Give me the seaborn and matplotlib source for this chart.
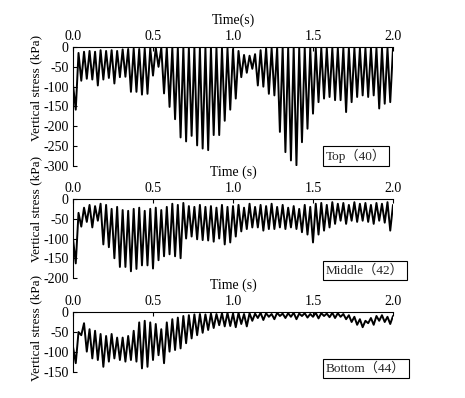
import numpy as np
import pandas as pd
import matplotlib
matplotlib.use("Agg")
import matplotlib.pyplot as plt
import seaborn as sns

# sampling interval of the alternating peak/trough readings (s)
dt = 2.0 / 116

# ---- Top (40) ----
top_peaks = [-95, -15, -12, -10, -12, -8, -10, -8, -10, -6,
             -5, -4, -5, -4, -3, -2, -2, -2, -2, -2,
             -2, -2, -2, -2, -2, -2, -2, -3, -3, -5,
             -10, -20, -22, -18, -8, -3, -3, -2, -2, -2,
             -2, -2, -2, -3, -3, -3, -3, -3, -3, -3,
             -3, -3, -3, -3, -3, -3, -3, -3, -3]
top_troughs = [-158, -85, -80, -82, -97, -82, -78, -92, -76, -75,
               -113, -113, -120, -118, -72, -50, -117, -151, -182, -228,
               -238, -224, -248, -256, -260, -222, -222, -186, -158, -130,
               -76, -65, -55, -97, -100, -118, -122, -214, -265, -286,
               -298, -240, -206, -168, -139, -130, -126, -134, -134, -164,
               -139, -126, -122, -126, -122, -155, -143, -139]

# ---- Middle (42) ----
mid_peaks = [-100, -35, -22, -15, -18, -12, -15, -25, -20, -28,
             -30, -25, -22, -30, -25, -22, -28, -20, -12, -15,
             -10, -18, -20, -15, -20, -18, -22, -15, -20, -18,
             -15, -22, -12, -20, -15, -18, -12, -20, -15, -22,
             -18, -25, -15, -20, -12, -10, -15, -8, -12, -10,
             -15, -8, -12, -10, -15, -10, -12, -8, -15]
mid_troughs = [-163, -70, -58, -72, -55, -115, -122, -150, -172, -172,
               -183, -177, -168, -168, -176, -155, -145, -140, -145, -150,
               -100, -95, -102, -104, -105, -108, -100, -115, -110, -95,
               -82, -76, -72, -72, -80, -76, -76, -72, -76, -72,
               -76, -84, -90, -110, -90, -80, -72, -63, -55, -63,
               -55, -58, -55, -58, -63, -55, -60, -80]

# ---- Bottom (44) ----
bot_peaks = [-87, -50, -28, -43, -47, -55, -60, -55, -64, -64,
             -60, -47, -26, -22, -26, -30, -43, -26, -18, -14,
             -10, -8, -6, -5, -6, -4, -5, -3, -2, -4,
             -2, -5, -3, -4, -2, -3, -5, -2, -4, -3,
             -2, -4, -3, -5, -2, -3, -4, -2, -3, -5,
             -8, -12, -18, -22, -15, -10, -8, -12, -10]
bot_troughs = [-128, -58, -99, -116, -120, -137, -124, -116, -120, -124,
               -120, -124, -141, -137, -120, -108, -128, -99, -95, -91,
               -78, -66, -58, -52, -45, -40, -33, -36, -35, -38,
               -30, -36, -22, -15, -20, -12, -18, -10, -15, -12,
               -18, -10, -14, -12, -16, -10, -13, -15, -12, -18,
               -25, -32, -38, -28, -32, -22, -25, -30]

x_ticks = [0.0, 0.5, 1.0, 1.5, 2.0]
panels = [
    dict(name="Top（40）", peaks=top_peaks, troughs=top_troughs,
         yticks=[0, -50, -100, -150, -200, -250, -300], ymin=-300,
         xlabel="Time(s)", top=47, bottom=166, ylab_y=0.655, box_y=156),
    dict(name="Middle（42）", peaks=mid_peaks, troughs=mid_troughs,
         yticks=[0, -50, -100, -150, -200], ymin=-200,
         xlabel="Time (s)", top=199, bottom=278, ylab_y=0.88, box_y=270.5),
    dict(name="Bottom（44）", peaks=bot_peaks, troughs=bot_troughs,
         yticks=[0, -50, -100, -150], ymin=-150,
         xlabel="Time (s)", top=312, bottom=372, ylab_y=0.73, box_y=368.5),
]


def build(peaks, troughs):
    vals = []
    for p, q in zip(peaks, troughs):
        vals += [p, q]
    vals.append(peaks[-1])
    t = np.arange(len(vals)) * dt
    return pd.DataFrame({"t": t, "v": vals})


sns.set_style("ticks")
plt.rcParams["font.family"] = ["Liberation Serif", "Noto Sans CJK SC"]
plt.rcParams["axes.unicode_minus"] = False

W, H = 465, 398
fig = plt.figure(figsize=(W / 100, H / 100), dpi=100)
fs = 10

for p in panels:
    ax = fig.add_axes([73 / W, 1 - p["bottom"] / H, 320 / W,
                       (p["bottom"] - p["top"]) / H])
    df = build(p["peaks"], p["troughs"])
    sns.lineplot(data=df, x="t", y="v", ax=ax, color="black", lw=1.4,
                 estimator=None, sort=False)
    ax.set_xlim(0, 2.0)
    ax.set_ylim(p["ymin"], 0)
    ax.set_xticks(x_ticks)
    ax.set_xticklabels([f"{v:.1f}" for v in x_ticks])
    ax.set_yticks(p["yticks"])
    ax.set_yticklabels([str(v) for v in p["yticks"]])
    ax.xaxis.tick_top()
    ax.xaxis.set_label_position("top")
    ax.tick_params(axis="both", direction="in", length=3, width=0.8,
                   labelsize=fs, colors="black", pad=3)
    ax.tick_params(axis="x", bottom=False, top=True)
    for s in ["right", "bottom"]:
        ax.spines[s].set_visible(False)
    for s in ["top", "left"]:
        ax.spines[s].set_linewidth(0.8)
        ax.spines[s].set_color("black")
    ax.set_xlabel(p["xlabel"], fontsize=fs, labelpad=1, color="black")
    ax.xaxis.set_label_coords(0.5, 1.0 + 27 / (p["bottom"] - p["top"]))
    ax.xaxis.label.set_va("center")
    ax.set_ylabel("Vertical stress (kPa)", fontsize=9.5, color="black")
    ax.yaxis.set_label_coords(-0.097, p["ylab_y"])
    fig.text(326 / W, 1 - p["box_y"] / H, p["name"], fontsize=9.5,
             ha="left", va="center",
             bbox=dict(boxstyle="square,pad=0.25", fc="white", ec="black", lw=0.8))

fig.savefig("out.png", dpi=100)
